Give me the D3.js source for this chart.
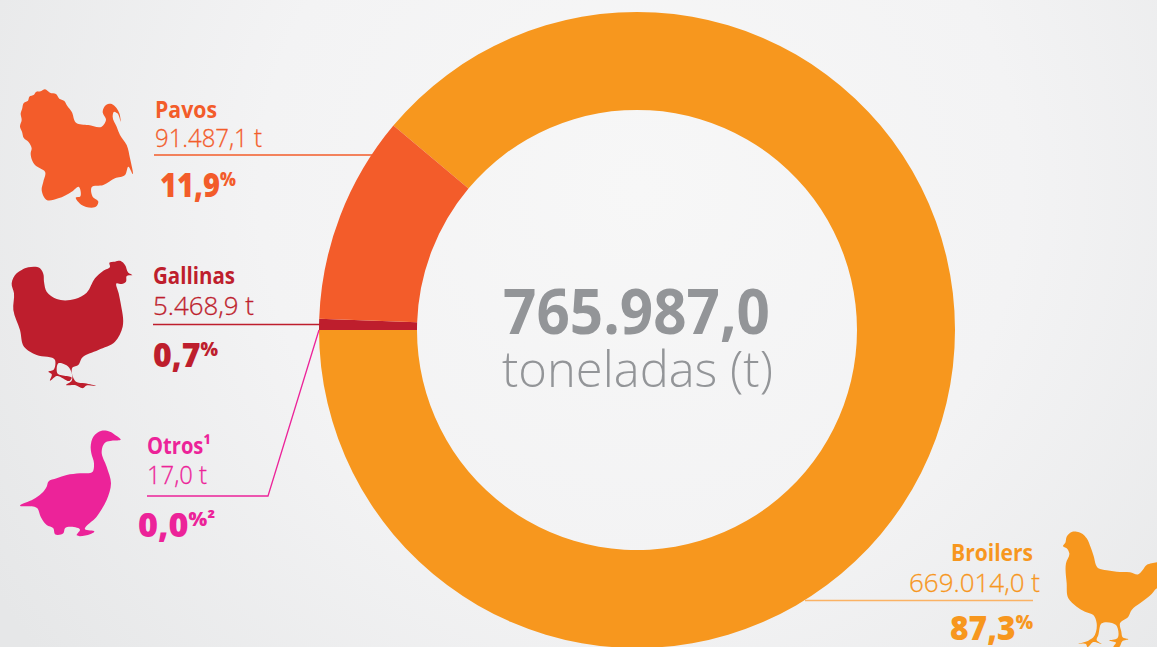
<!DOCTYPE html>
<html>
<head>
<meta charset="utf-8">
<script src="https://cdn.jsdelivr.net/npm/d3@7"></script>
<style>
  html, body { margin: 0; padding: 0; overflow: hidden; }
  svg { display: block; }
  text { font-family: "Open Sans", sans-serif; }
</style>
</head>
<body>
<svg id="chart" width="1157" height="647"></svg>
<script>
const categories = ['Broilers', 'Otros', 'Gallinas', 'Pavos']
// share of the ring each slice really takes in the picture (%), it is not
// quite the printed percentage, so the printed ones stay as labels below
const ringShares = [88.89, 0.002, 0.56, 10.55]
const tonnes = ['669.014,0 t', '17,0 t', '5.468,9 t', '91.487,1 t']
const percents = ['87,3', '0,0', '0,7', '11,9']
const percentMarks = ['%', '%²', '%', '%']
const nameMarks = ['', '¹', '', '']
const totalValue = '765.987,0'
const totalUnit = 'toneladas (t)'

const colors = ['#F7971E', '#EC2399', '#BE1E2D', '#F35C2A']
const lineColors = ['#FBB264', '#EC2399', '#BE1E2D', '#F35C2A']

// label placement, same order as categories. w* = text widths, the print font is narrower
const labelPos = [
    { anchor: 'end', nameX: 1033, valueX: 1040, name: 561, value: 592, pct: 1033, pctY: 640, wName: 82, wValue: 131, wPct: 83 },
    { anchor: 'start', nameX: 147, valueX: 147, name: 454, value: 484, pct: 138, pctY: 537, wName: 64, wValue: 60, wPct: 77 },
    { anchor: 'start', nameX: 153, valueX: 153, name: 284, value: 315, pct: 153, pctY: 367, wName: 82, wValue: 101, wPct: 65 },
    { anchor: 'start', nameX: 155, valueX: 155, name: 118, value: 147, pct: 160, pctY: 197, wName: 62, wValue: 107, wPct: 76 }
]
const leaders = [
    [[805, 600.5], [1033, 600.5]],
    [[147, 496], [268, 496], [319, 330]],
    [[153, 324.5], [320, 324.5]],
    [[154, 155], [372, 155]]
]

// silhouettes at 3x
const icons = [
    { ox: 880, oy: 520, pts: '549,78 556,68 560,50 575,36 590,35 608,42 620,55 632,82 640,105 655,145 680,151 710,155 750,157 775,163 788,150 800,135 815,130 850,128 850,205 831,205 815,222 800,235 780,250 755,270 745,290 720,310 724,335 728,352 745,358 727,364 718,381 700,381 708,368 688,362 712,355 708,315 665,310 655,345 650,360 665,372 640,366 622,381 618,372 595,372 625,362 640,352 650,310 640,285 615,275 590,260 565,235 560,190 558,130 568,100 560,85' },
    { ox: 0, oy: 420, pts: '60,257 100,238 125,220 140,200 145,185 170,175 200,165 240,160 278,155 282,130 274,100 272,80 280,50 292,38 305,32 330,35 350,48 362,58 335,62 318,66 310,75 305,95 320,140 333,190 320,240 305,268 290,290 255,328 283,335 270,343 230,345 240,330 195,325 190,340 165,343 160,325 140,315 122,290 112,265' },
    { ox: 0, oy: 250, pts: '35,100 50,70 65,60 85,52 120,55 130,72 132,95 140,125 170,147 225,147 260,128 285,85 310,62 330,50 328,38 345,35 362,33 375,45 385,68 397,75 380,78 378,95 365,102 350,100 356,130 362,160 368,230 345,275 295,300 245,325 235,345 218,352 228,395 255,400 288,408 258,407 250,414 225,405 198,405 215,392 205,350 175,340 172,370 215,385 210,392 170,378 150,392 155,372 145,365 160,360 165,330 110,315 72,290 60,240 40,180 42,130' },
    { ox: 0, oy: 70, pts: '62,130 66,118 72,98 84,92 88,80 102,74 108,66 122,64 135,58 150,68 168,72 178,86 192,92 202,108 215,125 228,158 265,165 305,170 318,150 308,125 318,105 335,102 350,115 358,130 362,155 352,130 342,125 338,140 350,170 360,195 380,225 390,265 398,312 385,290 375,315 345,325 310,345 275,352 278,380 295,395 290,408 245,405 228,382 240,380 236,350 215,365 175,385 140,390 125,360 130,335 135,305 120,295 105,285 92,250 95,235 85,215 72,205 66,185 60,170 65,150' }
]

const width = 1157, height = 647
const cx = 637, cy = 330
const outerRadius = 318, innerRadius = 220

const svg = d3.select('#chart')

const defs = svg.append('defs')
const bg = defs.append('radialGradient').attr('id', 'bg')
    .attr('gradientUnits', 'userSpaceOnUse')
    .attr('cx', 640).attr('cy', 190).attr('r', 760)
bg.append('stop').attr('offset', 0).attr('stop-color', '#f7f7f7')
bg.append('stop').attr('offset', 0.5).attr('stop-color', '#f3f3f4')
bg.append('stop').attr('offset', 1).attr('stop-color', '#e6e7e8')
svg.append('rect').attr('width', width).attr('height', height).attr('fill', 'url(#bg)')

const slices = categories.map((c, i) => ({ name: c, share: ringShares[i], color: colors[i] }))
const pie = d3.pie().sort(null).value(d => d.share)
    .startAngle(-50 * Math.PI / 180)
    .endAngle(310 * Math.PI / 180)
const arc = d3.arc().innerRadius(innerRadius).outerRadius(outerRadius)

svg.append('g').attr('transform', `translate(${cx},${cy})`)
    .selectAll('path').data(pie(slices)).enter().append('path')
    .attr('d', arc)
    .attr('fill', d => d.data.color)

// leader lines
const line = d3.line()
svg.append('g').selectAll('path').data(leaders).enter().append('path')
    .attr('d', line)
    .attr('fill', 'none')
    .attr('stroke', (d, i) => lineColors[i])
    .attr('stroke-width', 1.3)

// animals
const outline = d3.line().curve(d3.curveCatmullRomClosed.alpha(0.9))
svg.append('g').selectAll('path').data(icons).enter().append('path')
    .attr('transform', d => `translate(${d.ox},${d.oy}) scale(${1 / 3})`)
    .attr('d', d => outline(d.pts.split(' ').map(p => p.split(',').map(Number))))
    .attr('fill', (d, i) => colors[i])

// labels
const labels = svg.append('g').selectAll('g').data(categories).enter().append('g')
    .attr('fill', (d, i) => colors[i])
    .attr('text-anchor', (d, i) => labelPos[i].anchor)

labels.append('text')
    .attr('x', (d, i) => labelPos[i].nameX)
    .attr('y', (d, i) => labelPos[i].name)
    .attr('font-size', 23)
    .attr('font-weight', 700)
    .attr('textLength', (d, i) => labelPos[i].wName)
    .attr('lengthAdjust', 'spacingAndGlyphs')
    .text((d, i) => d + nameMarks[i])

labels.append('text')
    .attr('x', (d, i) => labelPos[i].valueX)
    .attr('y', (d, i) => labelPos[i].value)
    .attr('font-size', 25.5)
    .attr('font-weight', 300)
    .attr('stroke', (d, i) => colors[i])
    .attr('stroke-width', 0.3)
    .attr('textLength', (d, i) => labelPos[i].wValue)
    .attr('lengthAdjust', 'spacingAndGlyphs')
    .text((d, i) => tonnes[i])

const pct = labels.append('text')
    .attr('x', (d, i) => labelPos[i].pct)
    .attr('y', (d, i) => labelPos[i].pctY)
    .attr('font-size', 33)
    .attr('font-weight', 800)
    .attr('textLength', (d, i) => labelPos[i].wPct)
    .attr('lengthAdjust', 'spacingAndGlyphs')
pct.append('tspan').text((d, i) => percents[i])
pct.append('tspan')
    .attr('font-size', 19)
    .attr('dy', -11)
    .text((d, i) => percentMarks[i])

// centre
svg.append('text')
    .attr('x', 636.5).attr('y', 334)
    .attr('text-anchor', 'middle')
    .attr('font-size', 62)
    .attr('font-weight', 700)
    .attr('fill', '#939598')
    .attr('textLength', 267)
    .attr('lengthAdjust', 'spacingAndGlyphs')
    .text(totalValue)
svg.append('text')
    .attr('x', 637.5).attr('y', 387)
    .attr('text-anchor', 'middle')
    .attr('font-size', 49)
    .attr('font-weight', 300)
    .attr('fill', '#939598')
    .attr('textLength', 271)
    .attr('lengthAdjust', 'spacingAndGlyphs')
    .text(totalUnit)
</script>
</body>
</html>
